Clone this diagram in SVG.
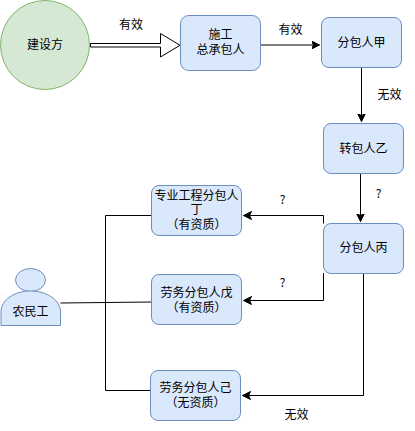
<svg xmlns="http://www.w3.org/2000/svg" width="415" height="431" viewBox="0 0 415 431">
<style>
text{font-family:"Noto Sans CJK SC","Noto Sans",sans-serif;font-size:12px;fill:#000;text-anchor:middle}
.n{fill:#dae8fc;stroke:#6c8ebf;stroke-width:1}
.c{fill:none;stroke:#000;stroke-width:1}
</style>
<defs>
<marker id="a" markerUnits="userSpaceOnUse" markerWidth="10" markerHeight="10" refX="8" refY="4" orient="auto"><path d="M0 0L8 4L0 8L2 4Z" fill="#000" stroke="#000"/></marker>
</defs>
<rect width="415" height="431" fill="#fff"/>
<g id="connectors">
<path d="M90.5 43.5H160.5V33.5L180 45.25L160.5 57V47H90.5Z" fill="#fff" stroke="#000"/>
<path class="c" d="M260.5 45H319.5" marker-end="url(#a)"/>
<path class="c" d="M361.5 68V121.5" marker-end="url(#a)"/>
<path class="c" d="M360.5 174V221.5" marker-end="url(#a)"/>
<path class="c" d="M323.5 223.5V215.5H243.5" marker-end="url(#a)"/>
<path class="c" d="M323.5 273V300.5H243.5" marker-end="url(#a)"/>
<path class="c" d="M363.5 274V395.5H242.5" marker-end="url(#a)"/>
<path class="c" d="M151.5 215.5H105.5V390.5H150.5"/>
<path class="c" d="M60.5 303L151.5 302"/>
</g>
<g id="jianshefang"><circle cx="45" cy="45" r="44.5" fill="#d5e8d4" stroke="#82b366"/><text x="45" y="49">建设方</text></g>
<g id="zongbao"><rect class="n" x="180.5" y="15.5" width="80" height="55" rx="8.25"/><text x="220.5" y="39">施工<tspan x="220.5" dy="15">总承包人</tspan></text></g>
<g id="jia"><rect class="n" x="321.5" y="17.5" width="80" height="50" rx="7.5"/><text x="361.5" y="47">分包人甲</text></g>
<g id="yi"><rect class="n" x="323.5" y="123.5" width="80" height="50" rx="7.5"/><text x="363.5" y="153">转包人乙</text></g>
<g id="bing"><rect class="n" x="323.5" y="223.5" width="80" height="50" rx="7.5"/><text x="363.5" y="252">分包人丙</text></g>
<g id="ding"><rect class="n" x="151.5" y="185.5" width="90" height="50" rx="7.5"/><text x="196.5" y="200">专业工程分包人<tspan x="196.5" dy="14">丁</tspan><tspan x="196.5" dy="15">（有资质）</tspan></text></g>
<g id="wu"><rect class="n" x="151.5" y="274.5" width="90" height="50" rx="7.5"/><text x="196.5" y="297">劳务分包人戊<tspan x="196.5" dy="15">（有资质）</tspan></text></g>
<g id="ji"><rect class="n" x="150.5" y="370.5" width="90" height="50" rx="7.5"/><text x="195.5" y="392">劳务分包人己<tspan x="195.5" dy="15">（无资质）</tspan></text></g>
<g id="nongmingong"><ellipse class="n" cx="30.5" cy="280" rx="15" ry="11.5"/><path class="n" d="M1 325.5V312C1 300 14 291 30.5 291S60.5 300 60.5 312V325.5Z"/><text x="30.5" y="316">农民工</text></g>
<g id="labels">
<text x="131" y="29">有效</text>
<text x="290.5" y="34">有效</text>
<text x="389.5" y="99">无效</text>
<text x="378.5" y="198">?</text>
<text x="282.5" y="204">?</text>
<text x="282.5" y="287">?</text>
<text x="296.5" y="419">无效</text>
</g>
</svg>
